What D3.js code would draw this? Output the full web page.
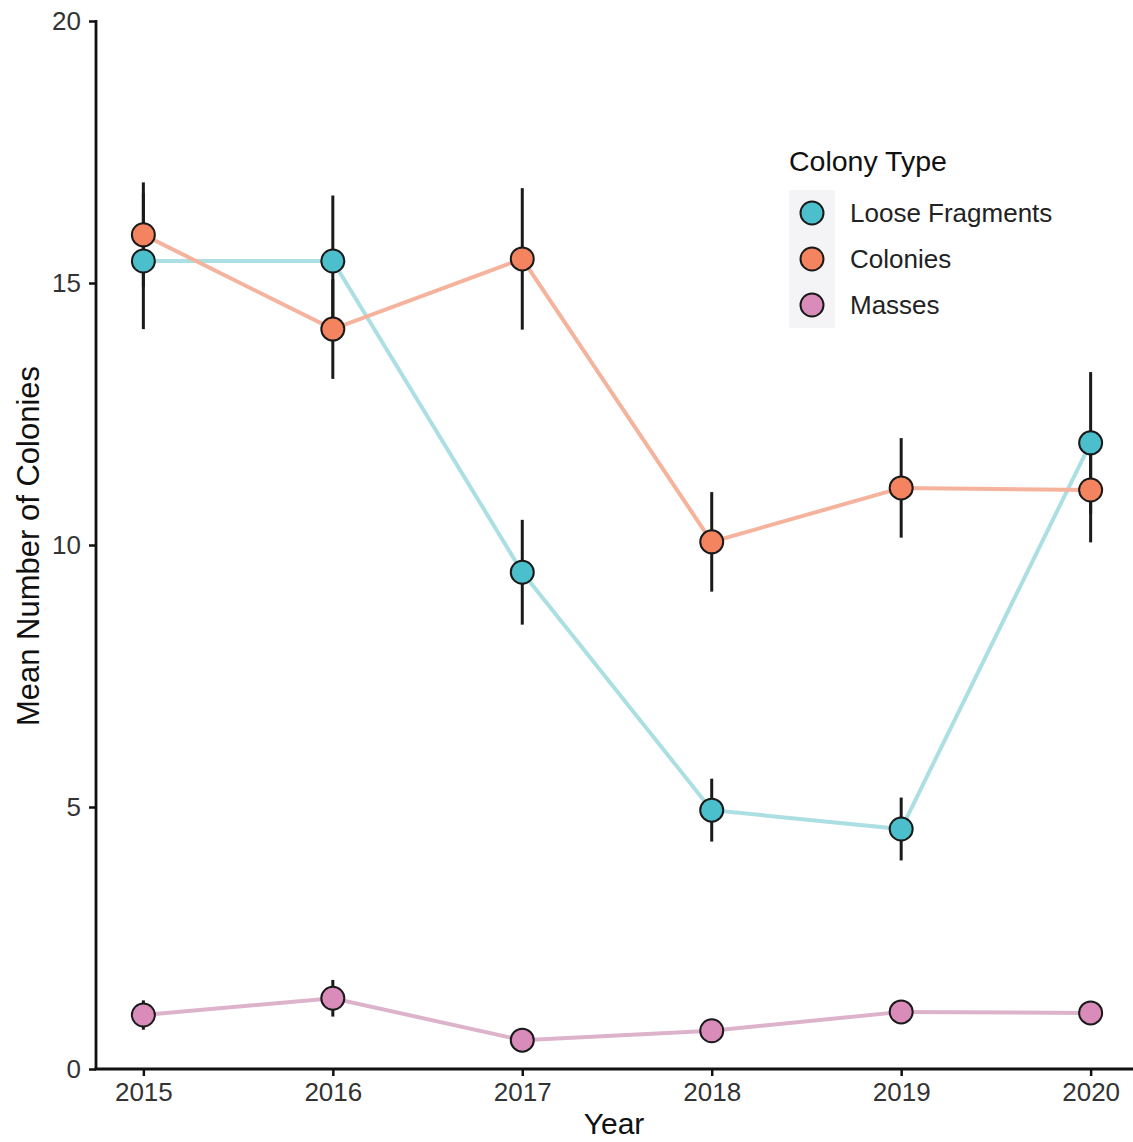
<!DOCTYPE html>
<html><head><meta charset="utf-8">
<script src="https://cdn.jsdelivr.net/npm/d3@7"></script>
<style>body{margin:0;background:#fff}svg{display:block;font-family:"Liberation Sans",Arial,sans-serif}</style>
</head><body><svg id="c" width="1133" height="1142"></svg>
<script>
const years = [2015, 2016, 2017, 2018, 2019, 2020];
const seriesNames = ["Loose Fragments", "Colonies", "Masses"];
const looseMean = [15.42, 15.42, 9.48, 4.94, 4.58, 11.95];
const looseErr  = [1.3, 1.25, 1.0, 0.6, 0.6, 1.35];
const coloniesMean = [15.92, 14.12, 15.46, 10.06, 11.09, 11.05];
const coloniesErr  = [1.0, 0.95, 1.35, 0.95, 0.95, 1.0];
const massesMean = [1.03, 1.35, 0.55, 0.73, 1.09, 1.07];
const massesErr  = [0.28, 0.35, 0.1, 0.1, 0.1, 0.1];
const yTicks = [0, 5, 10, 15, 20];

const fills = ["#4BBFCB", "#F4845F", "#D98CBA"];
const lineCols = ["#ACDFE3", "#F5B29C", "#DDB3CB"];

(function () {
const svg = d3.select("#c");
const pLeft = 96, pRight = 1138, pTop = 21, pBottom = 1069;
const x = d3.scaleLinear().domain([2014.75, 2020.25]).range([pLeft, pRight]);
const y = d3.scaleLinear().domain([0, 20]).range([pBottom, pTop]);

const series = [
  {name: seriesNames[0], mean: looseMean, err: looseErr},
  {name: seriesNames[1], mean: coloniesMean, err: coloniesErr},
  {name: seriesNames[2], mean: massesMean, err: massesErr}
];

const line = d3.line().x(d => x(d.year)).y(d => y(d.v));
series.forEach((s, i) => {
  const pts = years.map((yr, j) => ({year: yr, v: s.mean[j], e: s.err[j]}));
  svg.append("path").datum(pts).attr("d", line)
    .attr("fill", "none").attr("stroke", lineCols[i]).attr("stroke-width", 4);
});
series.forEach((s, i) => {
  const pts = years.map((yr, j) => ({year: yr, v: s.mean[j], e: s.err[j]}));
  svg.append("g").selectAll("line").data(pts).join("line")
    .attr("x1", d => x(d.year)).attr("x2", d => x(d.year))
    .attr("y1", d => y(d.v - d.e)).attr("y2", d => y(d.v + d.e))
    .attr("stroke", "#1a1a1a").attr("stroke-width", 3);
});
series.forEach((s, i) => {
  const pts = years.map((yr, j) => ({year: yr, v: s.mean[j]}));
  svg.append("g").selectAll("circle").data(pts).join("circle")
    .attr("cx", d => x(d.year)).attr("cy", d => y(d.v)).attr("r", 11.5)
    .attr("fill", fills[i]).attr("stroke", "#1a1a1a").attr("stroke-width", 2);
});

const xAxis = svg.append("g").attr("transform", `translate(0,${pBottom})`)
  .call(d3.axisBottom(x).tickValues(years).tickFormat(d3.format("d")).tickSizeOuter(0).tickSize(7).tickPadding(7));
const yAxis = svg.append("g").attr("transform", `translate(${pLeft},0)`)
  .call(d3.axisLeft(y).tickValues(yTicks).tickSizeOuter(0).tickSize(7).tickPadding(8));
[xAxis, yAxis].forEach(g => {
  g.attr("font-size", null).attr("font-family", null);
  g.select(".domain").attr("stroke", "#111").attr("stroke-width", 2.8);
  g.selectAll(".tick line").attr("stroke", "#111").attr("stroke-width", 2.5);
  g.selectAll(".tick text").attr("fill", "#333").style("font-size", "26px");
});
xAxis.select(".domain").attr("d", `M${pLeft - 1.4},0H1133`);
yAxis.select(".domain").attr("d", `M0,${pBottom}V${pTop - 1}`);

svg.append("text").attr("x", 614).attr("y", 1134).attr("text-anchor", "middle")
  .attr("fill", "#111").style("font-size", "30px").text("Year");
svg.append("text").attr("transform", "translate(39,546) rotate(-90)").attr("text-anchor", "middle")
  .attr("fill", "#111").style("font-size", "31px").text("Mean Number of Colonies");

const lg = svg.append("g");
lg.append("text").attr("x", 789).attr("y", 171).attr("fill", "#111").style("font-size", "28.5px").text("Colony Type");
seriesNames.forEach((n, i) => {
  const cy = 213 + i * 46;
  lg.append("rect").attr("x", 789).attr("y", cy - 23).attr("width", 46).attr("height", 46).attr("fill", "#F4F4F6");
  lg.append("circle").attr("cx", 812).attr("cy", cy).attr("r", 11.5)
    .attr("fill", fills[i]).attr("stroke", "#1a1a1a").attr("stroke-width", 2);
  lg.append("text").attr("x", 850).attr("y", cy + 9).attr("fill", "#222").style("font-size", "26px").text(n);
});
})();
</script></body></html>
